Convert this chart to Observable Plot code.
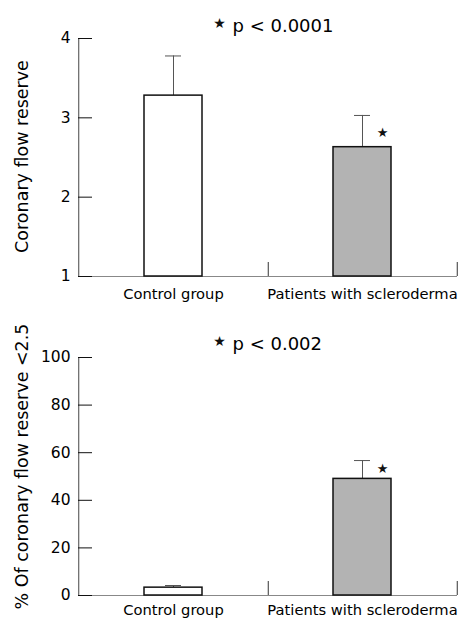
<!DOCTYPE html>
<html>
<head>
<meta charset="utf-8">
<script src="https://cdn.jsdelivr.net/npm/d3@7"></script>
<script src="https://cdn.jsdelivr.net/npm/@observablehq/plot@0.6"></script>
<style>
  html, body { margin: 0; padding: 0; background: #fff; }
  #chart svg { display: block; }
</style>
</head>
<body>
<div id="chart"></div>
<script>
// ---- data ----
const groups = ["Control group", "Patients with scleroderma"];
const groupFills = ["#ffffff", "#b3b3b3"];

const cfrMean = [3.28, 2.63];
const cfrUpper = [3.78, 3.03];
const cfrTicks = [1, 2, 3, 4];
const cfrTitle = "p < 0.0001";
const cfrLabel = "Coronary flow reserve";
const cfrSignificant = [false, true];

const pctMean = [3.3, 49];
const pctUpper = [4.2, 56.7];
const pctTicks = [0, 20, 40, 60, 80, 100];
const pctTitle = "p < 0.002";
const pctLabel = "% Of coronary flow reserve <2.5";
const pctSignificant = [false, true];

const star = "\u2605";

// ---- build ----
function panel({mean, upper, ticks, title, label, significant, height, marginTop, marginBottom, tickPad, labelDy, titleDy, starDy, barStarDy}) {
  const rows = groups.map((g, i) => ({group: g, mean: mean[i], upper: upper[i], fill: groupFills[i], sig: significant[i]}));
  const y0 = ticks[0];
  const y1 = ticks[ticks.length - 1];
  const frameH = height - marginTop - marginBottom;
  const step = (461 - 78 - 4) / 2;
  return Plot.plot({
    width: 461,
    height,
    marginLeft: 78,
    marginRight: 4,
    marginTop,
    marginBottom,
    style: {fontFamily: "DejaVu Sans", fontSize: "15px", background: "white", color: "black"},
    x: {type: "band", domain: groups, paddingInner: 0.694, paddingOuter: 0.347, label: null},
    y: {domain: [y0, y1], label: null},
    color: {type: "identity"},
    marks: [
      // axis line (left) and baseline
      Plot.ruleX([groups[0]], {x: d => d, dx: -step / 2, stroke: "#444", strokeWidth: 1}),
      Plot.ruleY([y0], {stroke: "#888", strokeWidth: 1}),
      // group separators
      Plot.ruleX(groups, {x: d => d, dx: step / 2, insetTop: frameH - 14, stroke: "#333"}),
      // y labels and inward ticks
      Plot.axisY(ticks, {tickSize: 0, tickPadding: 8, label: null, tickFormat: d => String(d), fontSize: 15.5}),
      Plot.axisY(ticks, {tickSize: -14, tickFormat: () => "", label: null, stroke: "#111"}),
      // x labels
      Plot.axisX({tickSize: 0, tickPadding: tickPad, label: null, fontSize: 14.7}),
      // error bars
      Plot.ruleX(rows, {x: "group", y1: "mean", y2: "upper", stroke: "#555"}),
      Plot.tickY(rows, {x: "group", y: "upper", stroke: "#555", insetLeft: 21, insetRight: 21}),
      // bars
      Plot.barY(rows, {x: "group", y1: y0, y2: "mean", fill: "fill", stroke: "#111", strokeWidth: 1.5}),
      // significance star on bar
      Plot.text(rows.filter(d => d.sig), {x: "group", y: "mean", text: () => star, dx: 20, dy: barStarDy, fontSize: 13, fill: "#111"}),
      // title
      Plot.text([star], {frameAnchor: "top", text: d => d, dx: -48.5, dy: starDy, fontSize: 14, fill: "#111"}),
      Plot.text([title], {frameAnchor: "top", text: d => d, textAnchor: "start", lineAnchor: "bottom", dx: -35.5, dy: titleDy, fontSize: 18}),
      // y label
      Plot.text([label], {frameAnchor: "left", text: d => d, rotate: -90, textAnchor: "middle", lineAnchor: "middle", dx: -56, dy: labelDy, fontSize: 17.5})
    ]
  });
}

const chart = document.getElementById("chart");
chart.append(panel({
  mean: cfrMean, upper: cfrUpper, ticks: cfrTicks, title: cfrTitle, label: cfrLabel, significant: cfrSignificant,
  height: 310, marginTop: 38, marginBottom: 34, tickPad: 12, labelDy: -1, titleDy: -7, starDy: -20.5, barStarDy: -14
}));
chart.append(panel({
  mean: pctMean, upper: pctUpper, ticks: pctTicks, title: pctTitle, label: pctLabel, significant: pctSignificant,
  height: 309, marginTop: 47, marginBottom: 24, tickPad: 9, labelDy: -10, titleDy: -8, starDy: -21, barStarDy: -10
}));
</script>
</body>
</html>
